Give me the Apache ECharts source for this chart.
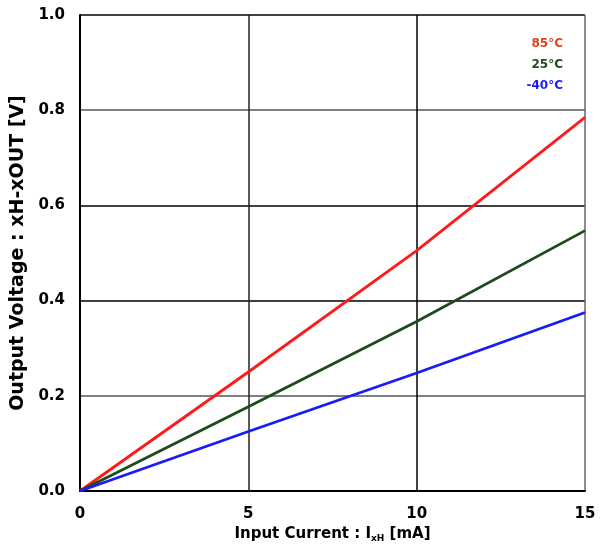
<!DOCTYPE html>
<html><head><meta charset="utf-8">
<script src="https://cdn.jsdelivr.net/npm/echarts@6/dist/echarts.min.js"></script>
<style>html,body{margin:0;padding:0;background:#fff}#c{width:611px;height:548px}</style>
</head><body><div id="c"></div>
<script>
const xValues = [0, 5, 10, 15];
const seriesNames = ['85°C', '25°C', '-40°C'];
const v85 = [0, 0.25, 0.505, 0.785];
const v25 = [0, 0.177, 0.356, 0.547];
const vm40 = [0, 0.125, 0.248, 0.375];
const yTicks = [0, 0.2, 0.4, 0.6, 0.8, 1.0];
const xTicks = [0, 5, 10, 15];

const lineColors = ['#ff1a1a', '#1d4a1d', '#1a1aff'];
const legendColors = ['#e4421c', '#1d4a1d', '#1a1aff'];
const font = 'DejaVu Sans, Liberation Sans, sans-serif';
const allVals = [v85, v25, vm40];

const chart = echarts.init(document.getElementById('c'));
chart.setOption({
  animation: false,
  grid: {left: 80, top: 15, width: 505, height: 476},
  legend: {
    orient: 'vertical', right: 38, top: 32, icon: 'none', itemGap: 8,
    itemWidth: 0, itemHeight: 14, align: 'right',
    data: seriesNames.map((n, i) => ({name: n, textStyle: {color: legendColors[i]}})),
    textStyle: {fontFamily: font, fontWeight: 'bold', fontSize: 12}
  },
  xAxis: {
    type: 'value', min: 0, max: 15, interval: 5,
    name: '{b|Input Current : I}{s|xH}{b| [mA]}', nameLocation: 'middle', nameGap: 27,
    nameTextStyle: {rich: {
      b: {fontFamily: font, fontWeight: 'bold', fontSize: 15, color: '#000'},
      s: {fontFamily: font, fontWeight: 'bold', fontSize: 9, color: '#000', verticalAlign: 'bottom', padding: [8, 0, 0, 0]}
    }},
    axisLine: {lineStyle: {color: '#000', width: 2}},
    axisTick: {show: false},
    axisLabel: {fontFamily: font, fontWeight: 'bold', fontSize: 15, color: '#000', margin: 16,
      formatter: v => xTicks.includes(v) ? String(v) : ''},
    splitLine: {show: true, lineStyle: {color: ['#000', '#222', '#000', '#666'], width: 1.5}}
  },
  yAxis: {
    type: 'value', min: 0, max: 1, interval: 0.2,
    name: 'Output Voltage : xH-xOUT [V]', nameLocation: 'middle', nameGap: 46,
    nameTextStyle: {fontFamily: font, fontWeight: 'bold', fontSize: 19, color: '#000'},
    axisLine: {show: true, lineStyle: {color: '#000', width: 2}},
    axisTick: {show: false},
    axisLabel: {fontFamily: font, fontWeight: 'bold', fontSize: 15, color: '#000', margin: 15,
      formatter: v => yTicks.some(t => Math.abs(t - v) < 1e-6) ? v.toFixed(1) : ''},
    splitLine: {show: true, lineStyle: {color: ['#000', '#555', '#000', '#000', '#555', '#000'], width: 1.6}}
  },
  series: seriesNames.map((n, i) => ({
    name: n, type: 'line', symbol: 'none',
    data: xValues.map((x, j) => [x, allVals[i][j]]),
    lineStyle: {color: lineColors[i], width: 2.8},
    itemStyle: {color: lineColors[i]}
  }))
});
</script></body></html>
